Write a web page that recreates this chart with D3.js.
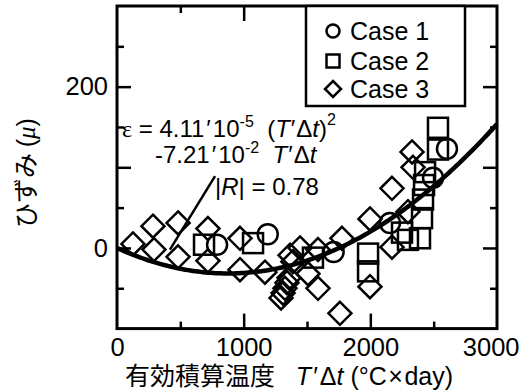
<!DOCTYPE html>
<html>
<head>
<meta charset="utf-8">
<script src="https://cdn.jsdelivr.net/npm/d3@7"></script>
<style>
  body { margin: 0; background: #fff; }
  text { white-space: pre; }
</style>
</head>
<body>
<svg id="chart" width="523" height="392"></svg>
<script>
// Axis setup
const xDomain = [0, 3000];
const yDomain = [-100, 300];
const xLabelTicks = [0, 1000, 2000, 3000];
const xMajorTicks = [1000, 2000];
const xMinorTicks = [500, 1500, 2500];
const yLabelTicks = [0, 200];
const yMajorTicks = [0, 100, 200];
const yMinorTicks = [-50, 50, 150, 250];

// Measured strain vs. effective cumulative temperature
const case1X = [790, 1190, 1710, 2155, 2495, 2605];
const case1Y = [4, 17, -5, 31, 87, 123];

const case2X = [687, 1074, 1547, 1982, 1982, 2250, 2297, 2392, 2408, 2416, 2424, 2432, 2534, 2534];
const case2Y = [4, 6, -12, -7, -29, 19, 10, 12, 37, 60, 78, 94, 122, 149];

const case3X = [126, 284, 292, 482, 482, 718, 718, 971, 971, 1168, 1295, 1311, 1326, 1342, 1358,
                1366, 1389, 1445, 1508, 1587, 1587, 1760, 1776, 1997, 1997, 2171, 2171, 2297, 2329, 2337];
const case3Y = [5, 27, -2, 31, -11, 24, -16, 12, -27, -30, -62, -56, -50, -43, -37,
                -9, -17, 0, -32, -2, -50, -81, 12, -48, 36, 74, 1, 45, 119, 100];

// Regression: eps = a*(T'dt)^2 + b*(T'dt)
const fitA = 4.11e-5;
const fitB = -7.21e-2;
const fitR = 0.78;

const legendLabels = ["Case 1", "Case 2", "Case 3"];
// Leader from the regression note down to the curve (data units)
const leaderFrom = [774, 89];
const leaderTo = [418, -2];

const W = 523, H = 392;
const margin = { left: 117, right: 26, top: 6, bottom: 63.4 };
const svg = d3.select("#chart");
const latin = "'Liberation Sans', Arial, Helvetica, sans-serif";
const cjk = "'Noto Sans CJK JP', 'Noto Sans CJK SC', sans-serif";
const serif = "'Liberation Serif', 'Times New Roman', serif";

const x = d3.scaleLinear().domain(xDomain).range([margin.left, W - margin.right]);
const y = d3.scaleLinear().domain(yDomain).range([H - margin.bottom, margin.top]);

const x0 = x.range()[0], x1 = x.range()[1];
const y0 = y.range()[0], y1 = y.range()[1];

function styleAxis(g) {
  g.select(".domain").remove();
  g.selectAll(".tick line").attr("stroke", "#000").attr("stroke-width", 2.5);
  g.selectAll(".tick text").attr("fill", "#000").attr("font-family", latin).attr("font-size", 25.5);
}

// bottom
const xLab = svg.append("g").attr("transform", `translate(0,${y0})`)
  .call(d3.axisBottom(x).tickValues(xLabelTicks).tickSize(0).tickPadding(9).tickFormat(d3.format("d")))
  .call(styleAxis);
// keep the last label inside the canvas
xLab.selectAll(".tick text").filter(d => d === xDomain[1])
  .attr("text-anchor", "end").attr("x", W - 4 - x(xDomain[1]));
svg.append("g").attr("transform", `translate(0,${y0})`)
  .call(d3.axisBottom(x).tickValues(xMajorTicks).tickSize(-15).tickFormat(""))
  .call(styleAxis);
svg.append("g").attr("transform", `translate(0,${y0})`)
  .call(d3.axisBottom(x).tickValues(xMinorTicks).tickSize(-7).tickFormat(""))
  .call(styleAxis);
// top
svg.append("g").attr("transform", `translate(0,${y1})`)
  .call(d3.axisTop(x).tickValues(xMajorTicks).tickSize(-15).tickFormat(""))
  .call(styleAxis);
svg.append("g").attr("transform", `translate(0,${y1})`)
  .call(d3.axisTop(x).tickValues(xMinorTicks).tickSize(-7).tickFormat(""))
  .call(styleAxis);
// left
svg.append("g").attr("transform", `translate(${x0},0)`)
  .call(d3.axisLeft(y).tickValues(yLabelTicks).tickSize(0).tickPadding(9).tickFormat(d3.format("d")))
  .call(styleAxis);
svg.append("g").attr("transform", `translate(${x0},0)`)
  .call(d3.axisLeft(y).tickValues(yMajorTicks).tickSize(-14).tickFormat(""))
  .call(styleAxis);
svg.append("g").attr("transform", `translate(${x0},0)`)
  .call(d3.axisLeft(y).tickValues(yMinorTicks).tickSize(-7).tickFormat(""))
  .call(styleAxis);
// right
svg.append("g").attr("transform", `translate(${x1},0)`)
  .call(d3.axisRight(y).tickValues(yMajorTicks).tickSize(-14).tickFormat(""))
  .call(styleAxis);
svg.append("g").attr("transform", `translate(${x1},0)`)
  .call(d3.axisRight(y).tickValues(yMinorTicks).tickSize(-7).tickFormat(""))
  .call(styleAxis);

// frame
svg.append("rect")
  .attr("x", x0).attr("y", y1).attr("width", x1 - x0).attr("height", y0 - y1)
  .attr("fill", "none").attr("stroke", "#000").attr("stroke-width", 3);

// markers
const plot = svg.append("g");
const mStroke = 2.5;
function circles(xs, ys) {
  plot.selectAll(null).data(xs.map((d, i) => [d, ys[i]])).join("circle")
    .attr("cx", d => x(d[0])).attr("cy", d => y(d[1])).attr("r", 10)
    .attr("fill", "none").attr("stroke", "#000").attr("stroke-width", mStroke);
}
function squares(xs, ys) {
  const s = 20;
  plot.selectAll(null).data(xs.map((d, i) => [d, ys[i]])).join("rect")
    .attr("x", d => x(d[0]) - s / 2).attr("y", d => y(d[1]) - s / 2)
    .attr("width", s).attr("height", s)
    .attr("fill", "none").attr("stroke", "#000").attr("stroke-width", mStroke);
}
function diamonds(xs, ys) {
  const h = 11.5;
  plot.selectAll(null).data(xs.map((d, i) => [d, ys[i]])).join("path")
    .attr("d", d => {
      const cx = x(d[0]), cy = y(d[1]);
      return `M${cx},${cy - h}L${cx + h},${cy}L${cx},${cy + h}L${cx - h},${cy}Z`;
    })
    .attr("fill", "none").attr("stroke", "#000").attr("stroke-width", mStroke)
    .attr("stroke-linejoin", "miter");
}
diamonds(case3X, case3Y);
squares(case2X, case2Y);
circles(case1X, case1Y);

// regression curve
const fitXs = d3.range(xDomain[0], xDomain[1] + 1, 20);
svg.append("path")
  .datum(fitXs)
  .attr("d", d3.line().x(d => x(d)).y(d => y(fitA * d * d + fitB * d)))
  .attr("fill", "none").attr("stroke", "#000").attr("stroke-width", 4.5);

// leader line
svg.append("line")
  .attr("x1", x(leaderFrom[0])).attr("y1", y(leaderFrom[1]))
  .attr("x2", x(leaderTo[0])).attr("y2", y(leaderTo[1]))
  .attr("stroke", "#000").attr("stroke-width", 2.5);

// regression equation text
const eqSize = 24, supSize = 16;
const l1 = svg.append("text").attr("x", 122).attr("y", 137)
  .attr("font-family", latin).attr("font-size", eqSize).attr("fill", "#000");
l1.append("tspan").attr("font-family", serif).text("ε");
l1.append("tspan").text(" = " + "4.11");
l1.append("tspan").attr("dx", 2).text("′");
l1.append("tspan").attr("dx", 2).text("10");
l1.append("tspan").attr("dy", -10).attr("font-size", supSize).text("-5");
l1.append("tspan").attr("dy", 10).text("  (");
l1.append("tspan").attr("font-style", "italic").text("T");
l1.append("tspan").attr("dx", 1).text("′");
l1.append("tspan").attr("dx", 1).text("Δ");
l1.append("tspan").attr("font-style", "italic").text("t");
l1.append("tspan").text(")");
l1.append("tspan").attr("dy", -12).attr("font-size", supSize).text("2");

const l2 = svg.append("text").attr("x", 155).attr("y", 163)
  .attr("font-family", latin).attr("font-size", eqSize).attr("fill", "#000");
l2.append("tspan").text("-7.21");
l2.append("tspan").attr("dx", 2).text("′");
l2.append("tspan").attr("dx", 2).text("10");
l2.append("tspan").attr("dy", -10).attr("font-size", supSize).text("-2");
l2.append("tspan").attr("dy", 10).text("  ");
l2.append("tspan").attr("font-style", "italic").text("T");
l2.append("tspan").attr("dx", 1).text("′");
l2.append("tspan").attr("dx", 1).text("Δ");
l2.append("tspan").attr("font-style", "italic").text("t");

const l3 = svg.append("text").attr("x", 215).attr("y", 195)
  .attr("font-family", latin).attr("font-size", eqSize).attr("fill", "#000");
l3.append("tspan").text("|");
l3.append("tspan").attr("font-style", "italic").text("R");
l3.append("tspan").text("| = " + fitR.toFixed(2));

// legend
const lg = svg.append("g");
lg.append("rect").attr("x", 306).attr("y", y1).attr("width", 159).attr("height", 100)
  .attr("fill", "#fff").attr("stroke", "#000").attr("stroke-width", 2.5);
const legendY = [31, 61, 89];
legendLabels.forEach((lab, i) => {
  const cy = legendY[i], cx = 333;
  if (i === 0) lg.append("circle").attr("cx", cx).attr("cy", cy).attr("r", 6.5);
  else if (i === 1) lg.append("rect").attr("x", cx - 6.5).attr("y", cy - 6.5).attr("width", 13).attr("height", 13);
  else lg.append("path").attr("d", `M${cx},${cy - 8}L${cx + 8},${cy}L${cx},${cy + 8}L${cx - 8},${cy}Z`);
  lg.append("text").attr("x", 350).attr("y", cy + 8.5)
    .attr("font-family", latin).attr("font-size", 25).attr("fill", "#000").text(lab);
});
lg.selectAll("circle, rect:not(:first-child), path")
  .attr("fill", "none").attr("stroke", "#000").attr("stroke-width", 2.5);

// axis titles
const xt = svg.append("text").attr("x", 125).attr("y", 385)
  .attr("font-family", latin).attr("font-size", 25).attr("fill", "#000");
xt.append("tspan").attr("font-family", cjk).attr("font-size", 25).text("有効積算温度");
xt.append("tspan").text("   ");
xt.append("tspan").attr("font-style", "italic").text("T");
xt.append("tspan").attr("dx", 2).text("′");
xt.append("tspan").attr("dx", 2).text("Δ");
xt.append("tspan").attr("font-style", "italic").text("t");
xt.append("tspan").text(" (°C");
xt.append("tspan").attr("dx", 1.5).text("×");
xt.append("tspan").attr("dx", 1.5).text("day)");

const yt = svg.append("text")
  .attr("transform", "translate(35,173) rotate(-90)")
  .attr("text-anchor", "middle")
  .attr("font-family", cjk).attr("font-size", 25).attr("fill", "#000");
yt.append("tspan").text("ひずみ ");
yt.append("tspan").attr("font-family", latin).text("(");
yt.append("tspan").attr("font-family", serif).attr("font-style", "italic").text("μ");
yt.append("tspan").attr("font-family", latin).text(")");
</script>
</body>
</html>
